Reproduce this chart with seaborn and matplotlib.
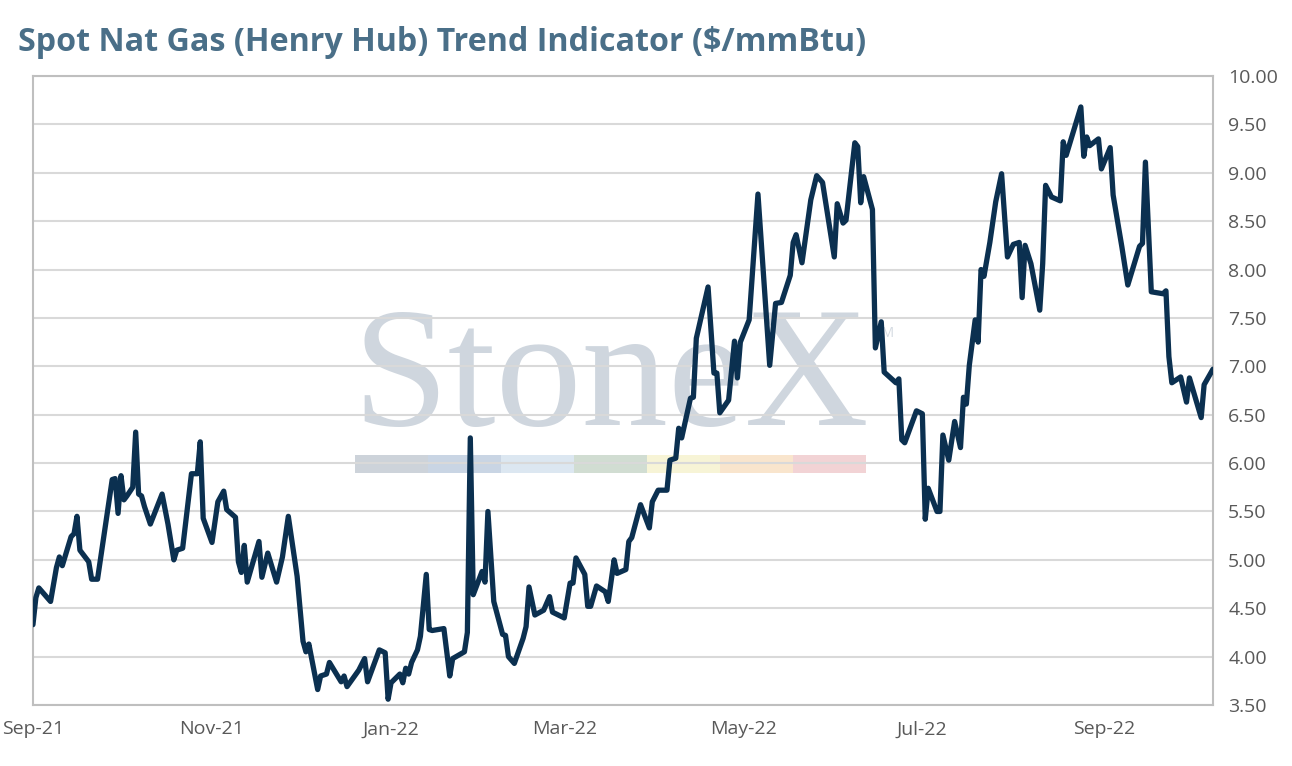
"""Spot Nat Gas (Henry Hub) trend indicator - seaborn line chart"""

import matplotlib
matplotlib.use("Agg")
import matplotlib.pyplot as plt
import matplotlib.dates as mdates
from matplotlib.patches import Rectangle
import pandas as pd
import seaborn as sns

# price path ($/mmBtu)
dates = [
    "2021-09-01", "2021-09-02", "2021-09-03", "2021-09-07", "2021-09-09", "2021-09-10",
    "2021-09-11", "2021-09-14", "2021-09-15", "2021-09-16", "2021-09-17", "2021-09-20",
    "2021-09-21", "2021-09-23", "2021-09-28", "2021-09-29", "2021-09-30", "2021-10-01",
    "2021-10-02", "2021-10-03", "2021-10-05", "2021-10-06", "2021-10-07", "2021-10-08",
    "2021-10-09", "2021-10-11", "2021-10-15", "2021-10-17", "2021-10-19", "2021-10-20",
    "2021-10-22", "2021-10-25", "2021-10-27", "2021-10-28", "2021-10-29", "2021-11-01",
    "2021-11-03", "2021-11-05", "2021-11-06", "2021-11-09", "2021-11-10", "2021-11-11",
    "2021-11-12", "2021-11-13", "2021-11-17", "2021-11-18", "2021-11-20", "2021-11-23",
    "2021-11-25", "2021-11-27", "2021-11-30", "2021-12-02", "2021-12-03", "2021-12-04",
    "2021-12-07", "2021-12-08", "2021-12-10", "2021-12-11", "2021-12-15", "2021-12-16",
    "2021-12-17", "2021-12-21", "2021-12-23", "2021-12-24", "2021-12-28", "2021-12-30",
    "2021-12-31", "2022-01-01", "2022-01-04", "2022-01-05", "2022-01-06", "2022-01-07",
    "2022-01-08", "2022-01-10", "2022-01-11", "2022-01-13", "2022-01-14", "2022-01-15",
    "2022-01-19", "2022-01-21", "2022-01-22", "2022-01-26", "2022-01-27", "2022-01-28",
    "2022-01-29", "2022-02-01", "2022-02-02", "2022-02-03", "2022-02-05", "2022-02-08",
    "2022-02-09", "2022-02-10", "2022-02-12", "2022-02-15", "2022-02-16", "2022-02-17",
    "2022-02-19", "2022-02-22", "2022-02-24", "2022-02-25", "2022-03-01", "2022-03-03",
    "2022-03-04", "2022-03-05", "2022-03-08", "2022-03-09", "2022-03-10", "2022-03-12",
    "2022-03-15", "2022-03-16", "2022-03-18", "2022-03-19", "2022-03-22", "2022-03-23",
    "2022-03-24", "2022-03-27", "2022-03-30", "2022-03-31", "2022-04-02", "2022-04-05",
    "2022-04-06", "2022-04-08", "2022-04-09", "2022-04-10", "2022-04-13", "2022-04-14",
    "2022-04-15", "2022-04-19", "2022-04-21", "2022-04-22", "2022-04-23", "2022-04-26",
    "2022-04-28", "2022-04-29", "2022-04-30", "2022-05-03", "2022-05-06", "2022-05-10",
    "2022-05-12", "2022-05-14", "2022-05-17", "2022-05-18", "2022-05-19", "2022-05-21",
    "2022-05-24", "2022-05-26", "2022-05-28", "2022-06-01", "2022-06-02", "2022-06-04",
    "2022-06-05", "2022-06-08", "2022-06-09", "2022-06-10", "2022-06-11", "2022-06-14",
    "2022-06-15", "2022-06-17", "2022-06-18", "2022-06-22", "2022-06-23", "2022-06-24",
    "2022-06-25", "2022-06-29", "2022-07-01", "2022-07-02", "2022-07-03", "2022-07-06",
    "2022-07-07", "2022-07-08", "2022-07-10", "2022-07-12", "2022-07-14", "2022-07-15",
    "2022-07-16", "2022-07-17", "2022-07-19", "2022-07-20", "2022-07-21", "2022-07-22",
    "2022-07-24", "2022-07-26", "2022-07-28", "2022-07-30", "2022-08-01", "2022-08-03",
    "2022-08-04", "2022-08-05", "2022-08-07", "2022-08-10", "2022-08-11", "2022-08-12",
    "2022-08-14", "2022-08-17", "2022-08-18", "2022-08-19", "2022-08-24", "2022-08-25",
    "2022-08-26", "2022-08-27", "2022-08-30", "2022-08-31", "2022-09-03", "2022-09-04",
    "2022-09-07", "2022-09-09", "2022-09-13", "2022-09-14", "2022-09-15", "2022-09-17",
    "2022-09-21", "2022-09-22", "2022-09-23", "2022-09-24", "2022-09-27", "2022-09-29",
    "2022-09-30", "2022-10-04", "2022-10-05", "2022-10-08",
]
prices = [
    4.33, 4.61, 4.71, 4.57, 4.92, 5.03,
    4.94, 5.24, 5.27, 5.45, 5.10, 4.98,
    4.80, 4.80, 5.83, 5.84, 5.48, 5.87,
    5.62, 5.66, 5.75, 6.32, 5.68, 5.66,
    5.55, 5.37, 5.68, 5.37, 5.00, 5.10,
    5.12, 5.89, 5.89, 6.22, 5.43, 5.18,
    5.60, 5.71, 5.52, 5.44, 4.98, 4.87,
    5.15, 4.77, 5.19, 4.82, 5.07, 4.77,
    5.03, 5.45, 4.83, 4.16, 4.05, 4.13,
    3.66, 3.80, 3.82, 3.94, 3.74, 3.80,
    3.69, 3.86, 3.98, 3.74, 4.07, 4.04,
    3.56, 3.73, 3.82, 3.73, 3.88, 3.82,
    3.94, 4.07, 4.21, 4.85, 4.28, 4.27,
    4.29, 3.80, 3.98, 4.05, 4.25, 6.26,
    4.64, 4.88, 4.77, 5.50, 4.57, 4.23,
    4.22, 4.00, 3.93, 4.19, 4.31, 4.72,
    4.43, 4.48, 4.62, 4.46, 4.40, 4.76,
    4.76, 5.02, 4.85, 4.52, 4.52, 4.73,
    4.67, 4.57, 5.00, 4.86, 4.90, 5.19,
    5.23, 5.57, 5.33, 5.60, 5.72, 5.72,
    6.03, 6.05, 6.36, 6.26, 6.67, 6.68,
    7.29, 7.82, 6.93, 6.93, 6.52, 6.65,
    7.26, 6.88, 7.25, 7.48, 8.78, 7.01,
    7.65, 7.66, 7.94, 8.28, 8.36, 8.07,
    8.72, 8.97, 8.90, 8.13, 8.68, 8.48,
    8.51, 9.31, 9.27, 8.69, 8.96, 8.62,
    7.19, 7.46, 6.94, 6.83, 6.87, 6.24,
    6.21, 6.54, 6.51, 5.42, 5.74, 5.50,
    5.50, 6.29, 6.03, 6.43, 6.16, 6.68,
    6.61, 7.01, 7.48, 7.25, 8.00, 7.93,
    8.28, 8.70, 8.99, 8.13, 8.26, 8.28,
    7.71, 8.25, 8.06, 7.58, 8.06, 8.87,
    8.75, 8.71, 9.32, 9.18, 9.68, 9.17,
    9.37, 9.28, 9.35, 9.04, 9.26, 8.77,
    8.23, 7.84, 8.24, 8.27, 9.11, 7.77,
    7.75, 7.78, 7.10, 6.83, 6.89, 6.63,
    6.88, 6.47, 6.81, 6.97,
]

x_start = "2021-09-01"
x_end = "2022-10-08"
month_ticks = ["2021-09-01", "2021-11-01", "2022-01-01", "2022-03-01",
               "2022-05-01", "2022-07-01", "2022-09-01"]
y_ticks = [3.5, 4.0, 4.5, 5.0, 5.5, 6.0, 6.5, 7.0, 7.5, 8.0, 8.5, 9.0, 9.5, 10.0]

# watermark colour strip
strip_colors = ["#cdd3da", "#c9d5e4", "#dce7f1", "#d1ddd2", "#f7f4d6", "#f9e5cd", "#f2d3d5"]

sns.set_theme(style="white")
plt.rcParams["font.family"] = ["Open Sans", "DejaVu Sans"]

df = pd.DataFrame({"date": pd.to_datetime(dates), "price": prices})

fig = plt.figure(figsize=(12.92, 7.66), dpi=100)
ax = fig.add_axes([0.0255, 0.0796, 0.9133, 0.8212])
ax.set_axisbelow(True)

# StoneX watermark behind everything
ax.text(0.2705, 0.445, "StoneX", transform=ax.transAxes, fontsize=124,
        family="Liberation Serif", color="#cfd6de", ha="left", va="baseline", zorder=0.1)
ax.text(0.7135, 0.59, "TM", transform=ax.transAxes, fontsize=10,
        color="#d5dbe2", ha="left", va="center", zorder=0.1)
seg_w = 0.0619
for i, c in enumerate(strip_colors):
    ax.add_patch(Rectangle((0.273 + i * seg_w, 0.369), seg_w, 0.029, transform=ax.transAxes,
                           facecolor=c, edgecolor="none", zorder=0.1))

sns.lineplot(data=df, x="date", y="price", color="#0b3050", linewidth=3.8, ax=ax, zorder=3)

ax.set_xlim(pd.Timestamp(x_start), pd.Timestamp(x_end))
ax.set_ylim(3.5, 10.0)
ax.set_xticks(pd.to_datetime(month_ticks))
ax.xaxis.set_major_formatter(mdates.DateFormatter("%b-%y"))
ax.set_yticks(y_ticks)
ax.set_yticklabels([f"{v:.2f}" for v in y_ticks])
ax.yaxis.tick_right()
ax.tick_params(axis="both", length=0, labelsize=14, labelcolor="#595959")
ax.tick_params(axis="y", pad=11)
ax.tick_params(axis="x", pad=11)
ax.grid(axis="y", color="#d9d9d9", linewidth=1.5)
ax.grid(axis="x", visible=False)
for s in ax.spines.values():
    s.set_visible(True)
    s.set_color("#bfbfbf")
    s.set_linewidth(1.5)
ax.set_xlabel("")
ax.set_ylabel("")

fig.text(0.014, 0.933, "Spot Nat Gas (Henry Hub) Trend Indicator ($/mmBtu)",
         fontsize=23.2, fontweight="bold", color="#4a6f88", ha="left", va="baseline")

fig.savefig("out.png", dpi=100)
